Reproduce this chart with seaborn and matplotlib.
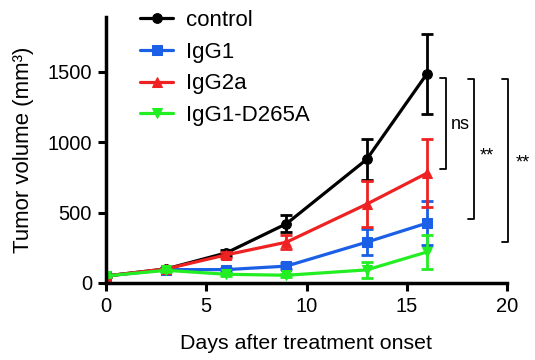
import pandas as pd
import numpy as np
import matplotlib
matplotlib.use("Agg")
import matplotlib.pyplot as plt
import seaborn as sns

# dane
dni = [0, 3, 6, 9, 13, 16]
grupy = ["control", "IgG1", "IgG2a", "IgG1-D265A"]
control = [50, 100, 214, 421, 878, 1485]
control_err = [10, 10, 20, 60, 143, 285]
igg1 = [50, 95, 95, 120, 290, 425]
igg1_err = [10, 10, 15, 20, 92, 155]
igg2a = [50, 100, 200, 290, 560, 780]
igg2a_err = [10, 10, 20, 50, 165, 240]
d265a = [50, 90, 62, 55, 93, 220]
d265a_err = [10, 10, 10, 10, 55, 120]

# nawiasy istotnosci: (x, y_gora, y_dol, tekst, x_tekst, y_tekst)
nawiasy = [
    (16.95, 1460, 810, "ns", 17.65, 1125),
    (18.35, 1450, 455, "**", 19.0, 905),
    (20.05, 1450, 292, "**", 20.8, 850),
]

kolory = {"control": "#000000", "IgG1": "#1a5fe6", "IgG2a": "#ee2222", "IgG1-D265A": "#22ee22"}
markery = {"control": "o", "IgG1": "s", "IgG2a": "^", "IgG1-D265A": "v"}

wartosci = [control, igg1, igg2a, d265a]
bledy = [control_err, igg1_err, igg2a_err, d265a_err]

df = pd.DataFrame({
    "Dzien": dni * 4,
    "Objetosc": sum(wartosci, []),
    "Blad": sum(bledy, []),
    "Grupa": sum([[g] * len(dni) for g in grupy], []),
})

sns.set_style("ticks")
plt.rcParams["font.family"] = ["Liberation Sans", "DejaVu Sans"]
plt.rcParams["text.color"] = "black"
plt.rcParams["axes.labelcolor"] = "black"

fig = plt.figure(figsize=(5.35, 3.6), dpi=100)
ax = fig.add_axes([106 / 535, 1 - 283 / 360, 401 / 535, 266 / 360])

for i, g in enumerate(grupy):
    d = df[df["Grupa"] == g]
    ax.errorbar(d["Dzien"], d["Objetosc"], yerr=d["Blad"], fmt="none",
                ecolor=kolory[g], elinewidth=2, capsize=4.5, capthick=2, zorder=2 + i)
    sns.lineplot(data=d, x="Dzien", y="Objetosc", color=kolory[g], marker=markery[g],
                 markersize=7, markeredgecolor=kolory[g], linewidth=2.3, label=g,
                 ax=ax, zorder=2 + i)

for x, y1, y2, txt, tx, ty in nawiasy:
    ax.plot([x - 0.3, x, x, x - 0.3], [y1, y1, y2, y2], color="black", lw=1.3, clip_on=False)
    ax.text(tx, ty, txt, fontsize=13, ha="center", va="center", clip_on=False)

ax.set_xlim(0, 20)
ax.set_ylim(0, 1890)
ax.set_xticks([0, 5, 10, 15, 20])
ax.set_yticks([0, 500, 1000, 1500])
ax.tick_params(width=2.2, length=6, pad=4, labelsize=14.5, colors="black")
sns.despine(ax=ax)
for s in ["left", "bottom"]:
    ax.spines[s].set_linewidth(2.5)
    ax.spines[s].set_color("black")
    ax.spines[s].set_zorder(10)

ax.set_xlabel("Days after treatment onset", fontsize=15.4, labelpad=13)
ax.set_ylabel("Tumor volume (mm³)", fontsize=16, labelpad=10)

ax.legend(loc="upper left", bbox_to_anchor=(140 / 535, 1 - 10 / 360),
          bbox_transform=fig.transFigure, frameon=False, fontsize=16,
          borderpad=0, borderaxespad=0, handlelength=1.5, handletextpad=0.55,
          labelspacing=0.48)

fig.savefig("out.png", dpi=100)
